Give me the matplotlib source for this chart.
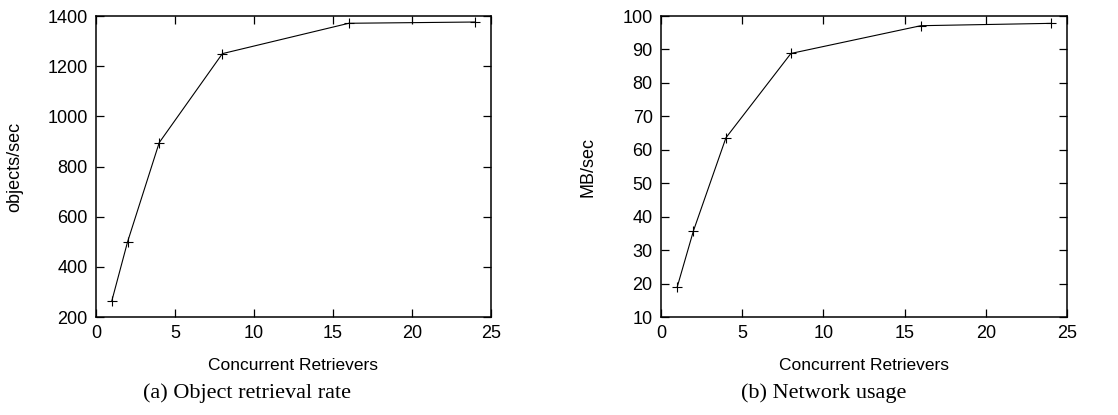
import matplotlib
matplotlib.use("Agg")
import matplotlib.pyplot as plt

retrievers = [1, 2, 4, 8, 16, 24]
objects_per_sec = [264, 500, 895, 1250, 1371, 1376]
mb_per_sec = [19.0, 35.8, 63.6, 88.8, 97.1, 97.8]

xticks = [0, 5, 10, 15, 20, 25]
yticks_a = [200, 400, 600, 800, 1000, 1200, 1400]
yticks_b = [10, 20, 30, 40, 50, 60, 70, 80, 90, 100]

W, H = 1118, 415
fig = plt.figure(figsize=(W / 100, H / 100), dpi=100)

def px_axes(l, r, t, b):
    return fig.add_axes([l / W, 1 - b / H, (r - l) / W, (b - t) / H])

sans = "Liberation Sans"
serif = "Liberation Serif"

panels = [
    (px_axes(96, 491, 16, 317), objects_per_sec, yticks_a, (200, 1400), "objects/sec",
     15, "(a) Object retrieval rate", 247),
    (px_axes(661, 1067, 16, 317), mb_per_sec, yticks_b, (10, 100), "MB/sec",
     588, "(b) Network usage", 824),
]

for ax, ys, yt, ylim, ylab, ylx, cap, capx in panels:
    ax.plot(retrievers, ys, color="black", lw=0.8, marker="+", ms=6.5, mew=0.8)
    ax.set_xlim(0, 25)
    ax.set_ylim(*ylim)
    ax.set_xticks(xticks)
    ax.set_yticks(yt)
    ax.tick_params(direction="in", length=6, width=0.9, top=True, right=True,
                   labelsize=13, colors="black")
    ax.tick_params(axis="x", pad=6)
    ax.tick_params(axis="y", pad=6)
    for lab in ax.get_xticklabels() + ax.get_yticklabels():
        lab.set_fontfamily(sans)
    for sp in ax.spines.values():
        sp.set_linewidth(1.1)
    bb = ax.get_position()
    cx = (bb.x0 + bb.x1) / 2
    fig.text(cx, 1 - 365 / H, "Concurrent Retrievers", ha="center", va="center",
             fontsize=12.5, family=sans)
    fig.text(ylx / W, 1 - 167 / H, ylab, ha="center", va="center", rotation=90,
             fontsize=13, family=sans)
    fig.text(capx / W, 1 - 393 / H, cap, ha="center", va="center",
             fontsize=16, family=serif)

fig.savefig("out.png", dpi=100)
